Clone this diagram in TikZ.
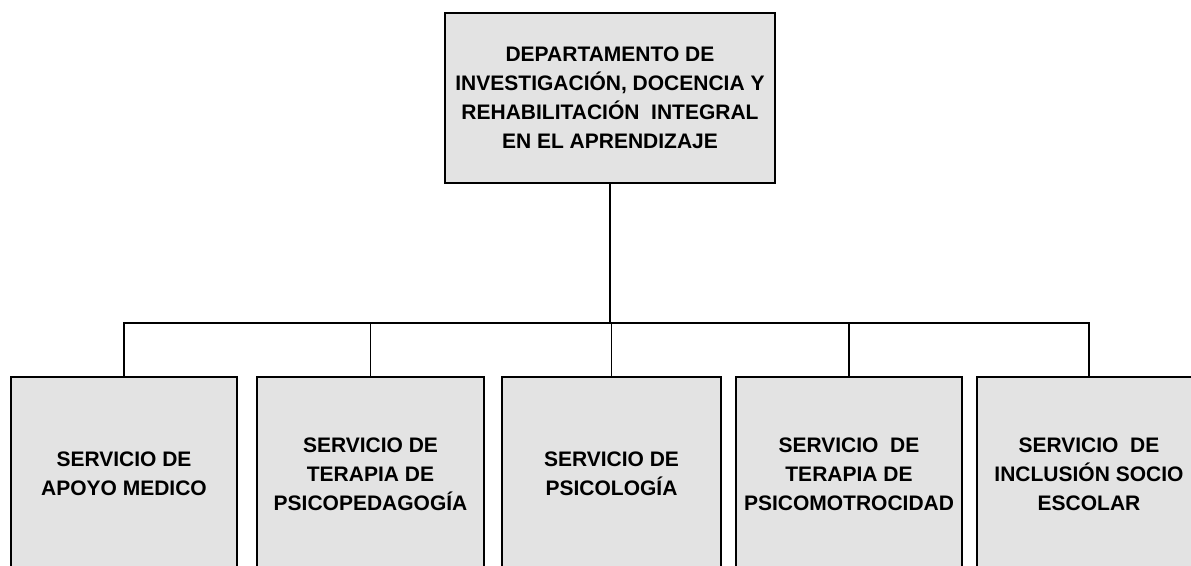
\documentclass[tikz,border=0pt]{standalone}
\usepackage{fontspec}
\setmainfont{Liberation Sans}
\begin{document}
\begin{tikzpicture}[x=0.5pt,y=-0.5pt,
  box/.style={draw=black, line width=0.8pt, fill=black!11, align=center, inner sep=0pt,
    font=\bfseries\fontsize{10.5pt}{14.5pt}\selectfont},
  topbox/.style={box, minimum width=165pt, minimum height=85pt},
  svcbox/.style={box, minimum height=97pt},
  link/.style={draw=black, line width=0.8pt}]
\useasboundingbox (0,0) rectangle (1191,566);
\clip (0,0) rectangle (1191,566);
\node[topbox] (top) at (610,98) {DEPARTAMENTO DE\\INVESTIGACIÓN, DOCENCIA Y\\REHABILITACIÓN\ \ INTEGRAL\\EN EL APRENDIZAJE};
\node[svcbox, minimum width=113pt] (b1) at (124,474) {SERVICIO DE\\APOYO MEDICO};
\node[svcbox, minimum width=113.5pt] (b2) at (370.5,474) {SERVICIO DE\\TERAPIA DE\\PSICOPEDAGOGÍA};
\node[svcbox, minimum width=109.5pt] (b3) at (611.5,474) {SERVICIO DE\\PSICOLOGÍA};
\node[svcbox, minimum width=113pt] (b4) at (849,474) {SERVICIO\ \ DE\\TERAPIA DE\\PSICOMOTROCIDAD};
\node[svcbox, minimum width=112pt] (b5) at (1089,474) {SERVICIO\ \ DE\\INCLUSIÓN SOCIO\\ESCOLAR};
\coordinate (bus) at (0,323);
\draw[link] (top.south) -- (top.south |- bus);
\draw[link] (b1.north) -- (b1.north |- bus) -- (b5.north |- bus) -- (b5.north);
\draw[link] (b2.north) -- (b2.north |- bus);
\draw[link] (b3.north) -- (b3.north |- bus);
\draw[link] (b4.north) -- (b4.north |- bus);
\end{tikzpicture}
\end{document}
